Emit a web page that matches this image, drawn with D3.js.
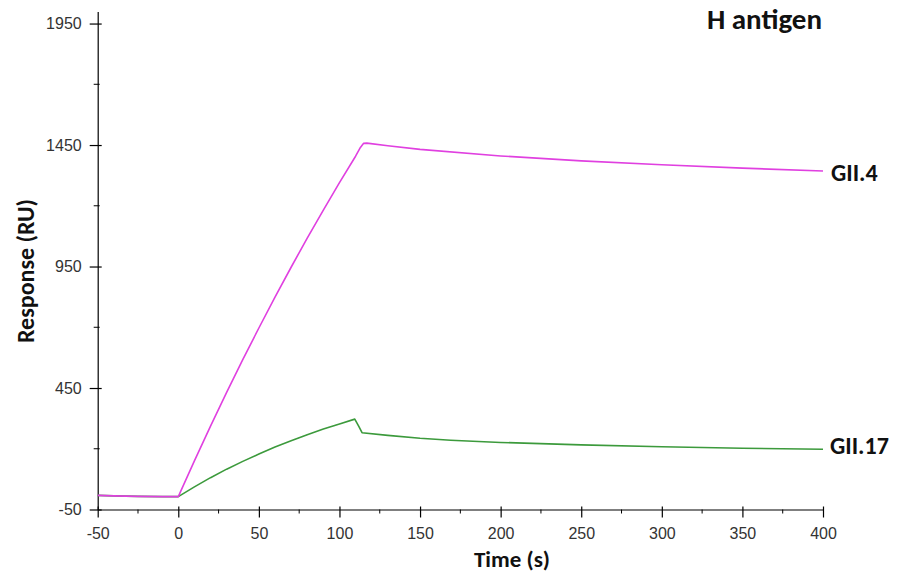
<!DOCTYPE html>
<html>
<head>
<meta charset="utf-8">
<script src="https://cdn.jsdelivr.net/npm/d3@7"></script>
<style>
  body { margin: 0; background: #fff; }
  .tick text { font-family: "Liberation Sans", Arial, sans-serif; font-size: 16px; fill: #333; }
  .bold { font-family: Carlito, Lato, "Open Sans", sans-serif; font-weight: bold; fill: #111; }
</style>
</head>
<body>
<div id="container"></div>
<script>
// baseline + association + dissociation
const gii4Time  = [-50, -40, -25, -10, 0, 10, 20, 30, 40, 50, 60, 70, 80, 90, 100, 110, 113, 115, 117, 130, 150, 200, 250, 300, 350, 400];
const gii4Value = [8, 6, 4, 3, 3, 150, 293, 432, 567, 697, 824, 947, 1067, 1182, 1295, 1404, 1440, 1457, 1458, 1447, 1432, 1405, 1385, 1369, 1355, 1343];

const gii17Time  = [-50, -40, -25, -10, 0, 10, 20, 30, 40, 50, 60, 70, 80, 90, 100, 109.5, 112, 114, 130, 150, 169, 200, 250, 300, 350, 400];
const gii17Value = [8, 6, 4, 3, 3, 43, 81, 116, 148, 178, 207, 233, 258, 281, 302, 322, 292, 266, 255, 243, 235, 226, 216, 208, 202, 198];

const xMajor = [-50, 0, 50, 100, 150, 200, 250, 300, 350, 400];
const xMinor = [-25, 25, 75, 125, 175, 225, 275, 325, 375];
const yMajor = [-50, 450, 950, 1450, 1950];
const yMinor = [200, 700, 1200, 1700];

const w = 899;
const h = 581;
const svg = d3.select("#container")
  .append("svg")
  .attr("width", w)
  .attr("height", h);

const xScale = d3.scaleLinear().domain([-50, 400]).range([97.7, 823]);
const yScale = d3.scaleLinear().domain([-50, 2000]).range([509.5, 11.4]);

// y axis
const yAxis = svg.append("g")
  .attr("transform", "translate(" + xScale(-50) + ",0)")
  .call(d3.axisLeft(yScale).tickValues(yMajor).tickSizeInner(8).tickSizeOuter(0).tickPadding(8).tickFormat((d) => String(d)));
yAxis.selectAll(".tick line").attr("x1", 4);
yAxis.append("g").selectAll("line")
  .data(yMinor)
  .enter()
  .append("line")
  .attr("x1", -4).attr("x2", 2)
  .attr("y1", (d) => yScale(d)).attr("y2", (d) => yScale(d))
  .attr("stroke", "#000");

// x axis
const xAxis = svg.append("g")
  .attr("transform", "translate(0," + yScale(-50) + ")")
  .call(d3.axisBottom(xScale).tickValues(xMajor).tickSizeInner(8).tickSizeOuter(0).tickPadding(10).tickFormat((d) => String(d)));
xAxis.selectAll(".tick line").attr("y1", -3);
xAxis.append("g").selectAll("line")
  .data(xMinor)
  .enter()
  .append("line")
  .attr("y1", 0).attr("y2", 4)
  .attr("x1", (d) => xScale(d)).attr("x2", (d) => xScale(d))
  .attr("stroke", "#000");

svg.selectAll(".domain").attr("stroke", "#000").attr("stroke-width", 1.2);
svg.selectAll(".tick line").attr("stroke", "#000").attr("stroke-width", 1.2);

const line = d3.line()
  .x((d) => xScale(d[0]))
  .y((d) => yScale(d[1]));

svg.append("path")
  .datum(d3.zip(gii17Time, gii17Value))
  .attr("fill", "none")
  .attr("stroke", "#3c9a3c")
  .attr("stroke-width", 1.6)
  .attr("stroke-linejoin", "round")
  .attr("d", line);

svg.append("path")
  .datum(d3.zip(gii4Time, gii4Value))
  .attr("fill", "none")
  .attr("stroke", "#e040e0")
  .attr("stroke-width", 1.6)
  .attr("stroke-linejoin", "round")
  .attr("d", line);

// labels
svg.append("text").attr("class", "bold")
  .attr("x", 831).attr("y", 181)
  .style("font-size", "24px")
  .text("GII.4");

svg.append("text").attr("class", "bold")
  .attr("x", 830).attr("y", 454)
  .style("font-size", "24px")
  .text("GII.17");

svg.append("text").attr("class", "bold")
  .attr("x", 822).attr("y", 29)
  .attr("text-anchor", "end")
  .style("font-size", "29px")
  .text("H antigen");

svg.append("text").attr("class", "bold")
  .attr("x", 512).attr("y", 567)
  .attr("text-anchor", "middle")
  .style("font-size", "23px")
  .text("Time (s)");

svg.append("text").attr("class", "bold")
  .attr("transform", "translate(34,271) rotate(-90)")
  .attr("text-anchor", "middle")
  .style("font-size", "24px")
  .text("Response (RU)");
</script>
</body>
</html>
